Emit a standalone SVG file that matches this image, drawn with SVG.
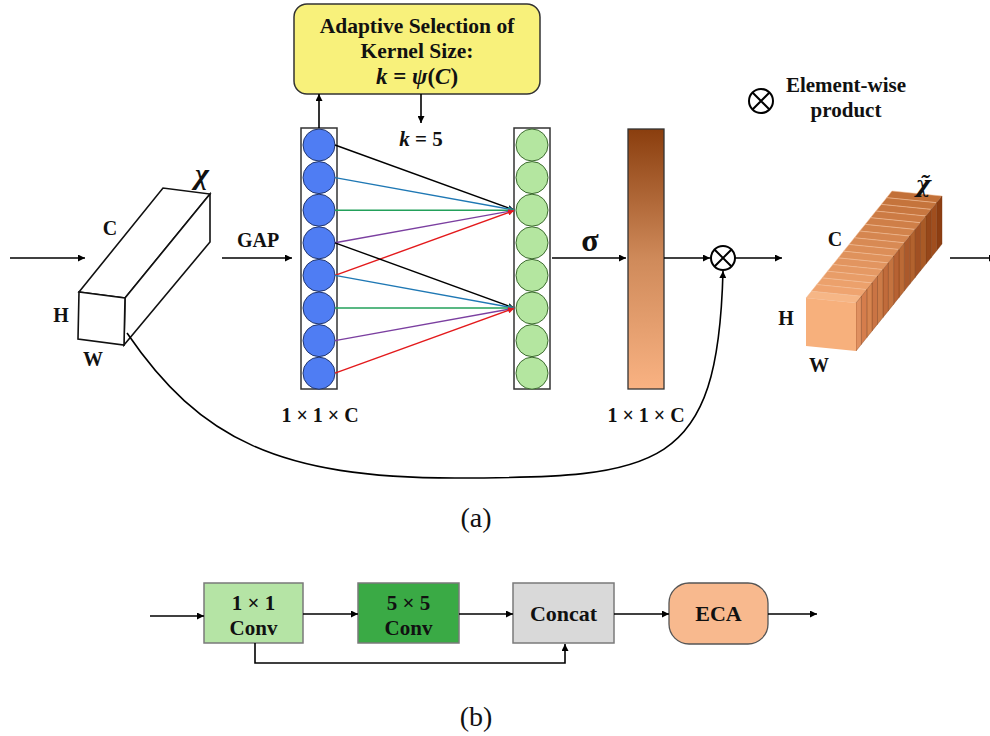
<svg xmlns="http://www.w3.org/2000/svg" xmlns:xlink="http://www.w3.org/1999/xlink" width="990" height="736" viewBox="0 0 990 736">
<style>
.t{font-family:"Liberation Serif","Times New Roman",serif;font-weight:bold;fill:#111}
.r{font-family:"Liberation Serif","Times New Roman",serif;fill:#111}
.ln{stroke:#000;stroke-width:1.6;fill:none}
.edge{stroke:#111;stroke-width:1.6;fill:#fff}
.blue{fill:#4f7df3;stroke:#23376e;stroke-width:1}
.green{fill:#b4e6a0;stroke:#3d6b30;stroke-width:1}
.col{fill:#fff;stroke:#333;stroke-width:1.5}
.box{stroke:#7a7a7a;stroke-width:1.5}
</style>
<defs>
<marker id="ah" viewBox="0 0 10 10" refX="10" refY="5" markerWidth="7" markerHeight="7" markerUnits="userSpaceOnUse" orient="auto"><path d="M0,0 L10,5 L0,10 z" fill="#000"/></marker>
<marker id="ahR" viewBox="0 0 10 10" refX="10" refY="5" markerWidth="6" markerHeight="6" markerUnits="userSpaceOnUse" orient="auto"><path d="M0,0 L10,5 L0,10 z" fill="#e31a1c"/></marker>
<marker id="ahK" viewBox="0 0 10 10" refX="10" refY="5" markerWidth="6" markerHeight="6" markerUnits="userSpaceOnUse" orient="auto"><path d="M0,0 L10,5 L0,10 z" fill="#000"/></marker>
<marker id="ahB" viewBox="0 0 10 10" refX="10" refY="5" markerWidth="6" markerHeight="6" markerUnits="userSpaceOnUse" orient="auto"><path d="M0,0 L10,5 L0,10 z" fill="#1f78b4"/></marker>
<marker id="ahG" viewBox="0 0 10 10" refX="10" refY="5" markerWidth="6" markerHeight="6" markerUnits="userSpaceOnUse" orient="auto"><path d="M0,0 L10,5 L0,10 z" fill="#22a05a"/></marker>
<marker id="ahP" viewBox="0 0 10 10" refX="10" refY="5" markerWidth="6" markerHeight="6" markerUnits="userSpaceOnUse" orient="auto"><path d="M0,0 L10,5 L0,10 z" fill="#7b3fa0"/></marker>
<linearGradient id="bar" x1="0" y1="0" x2="0" y2="1">
<stop offset="0" stop-color="#8a3e0e"/>
<stop offset="0.5" stop-color="#cf8a5a"/>
<stop offset="1" stop-color="#f9b282"/>
</linearGradient>
<polygon id="topS" points="806,298 856,303 861.4,296.3 811.4,291.3"/>
<polygon id="rgtS" points="856,303 856,351 861.4,344.3 861.4,296.3"/>
</defs>

<!-- input tensor X -->
<g id="input-tensor">
<polygon class="edge" points="79,292 163,188 210,194 125,298"/>
<polygon class="edge" points="125,298 210,194 210,242 124,345"/>
<polygon class="edge" points="79,292 125,298 124,345 78,339"/>
<text class="t" x="202" y="184" font-size="30" font-style="italic" text-anchor="middle">χ</text>
<text class="t" x="110" y="235" font-size="20" text-anchor="middle">C</text>
<text class="t" x="61" y="322" font-size="20" text-anchor="middle">H</text>
<text class="t" x="93" y="366" font-size="20" text-anchor="middle">W</text>
</g>

<!-- GAP vector -->
<g id="gap-vector">
<rect class="col" x="301" y="128" width="36" height="261"/>
<circle class="blue" cx="319" cy="145" r="16"/>
<circle class="blue" cx="319" cy="177.6" r="16"/>
<circle class="blue" cx="319" cy="210.2" r="16"/>
<circle class="blue" cx="319" cy="242.8" r="16"/>
<circle class="blue" cx="319" cy="275.4" r="16"/>
<circle class="blue" cx="319" cy="308" r="16"/>
<circle class="blue" cx="319" cy="340.6" r="16"/>
<circle class="blue" cx="319" cy="373.2" r="16"/>
<text class="t" x="320" y="422" font-size="20" text-anchor="middle">1 × 1 × C</text>
</g>

<!-- conv output vector -->
<g id="conv-vector">
<rect class="col" x="514" y="128" width="36" height="261"/>
<circle class="green" cx="532" cy="145" r="16"/>
<circle class="green" cx="532" cy="177.6" r="16"/>
<circle class="green" cx="532" cy="210.2" r="16"/>
<circle class="green" cx="532" cy="242.8" r="16"/>
<circle class="green" cx="532" cy="275.4" r="16"/>
<circle class="green" cx="532" cy="308" r="16"/>
<circle class="green" cx="532" cy="340.6" r="16"/>
<circle class="green" cx="532" cy="373.2" r="16"/>
</g>

<!-- adaptive kernel box -->
<g id="kernel-box">
<rect x="294" y="4" width="246" height="90" rx="13" fill="#f8f17b" stroke="#333" stroke-width="1.5"/>
<text class="t" x="417" y="33" font-size="21.5" text-anchor="middle">Adaptive Selection of</text>
<text class="t" x="417" y="58" font-size="21.5" text-anchor="middle">Kernel Size:</text>
<text class="t" x="417" y="84" font-size="23" text-anchor="middle"><tspan font-style="italic">k</tspan> = <tspan font-style="italic">ψ</tspan>(<tspan font-style="italic">C</tspan>)</text>
</g>
<text class="t" x="421" y="146" font-size="21" text-anchor="middle"><tspan font-style="italic">k</tspan> = 5</text>

<!-- sigmoid weights bar -->
<g id="weights-bar">
<rect x="628" y="129" width="36" height="260" fill="url(#bar)" stroke="#333" stroke-width="1.3"/>
<text class="t" x="646" y="422" font-size="20" text-anchor="middle">1 × 1 × C</text>
</g>

<!-- element-wise product -->
<g id="product">
<circle cx="723" cy="258" r="12" fill="#fff" stroke="#000" stroke-width="2"/>
<path d="M714.5,249.5 L731.5,266.5 M731.5,249.5 L714.5,266.5" stroke="#000" stroke-width="2"/>
</g>

<!-- legend -->
<g id="legend">
<circle cx="761" cy="101" r="12" fill="#fff" stroke="#000" stroke-width="2"/>
<path d="M752.5,92.5 L769.5,109.5 M769.5,92.5 L752.5,109.5" stroke="#000" stroke-width="2"/>
<text class="t" x="846" y="92" font-size="21" text-anchor="middle">Element-wise</text>
<text class="t" x="846" y="117" font-size="21" text-anchor="middle">product</text>
</g>

<!-- output tensor -->
<g id="output-tensor">
<g stroke="#f3bf98" stroke-width="0.5">
<use xlink:href="#topS" transform="translate(80.6,-100.3)" fill="#c27038"/>
<use xlink:href="#topS" transform="translate(75.25,-93.6)" fill="#c5743c"/>
<use xlink:href="#topS" transform="translate(69.9,-86.9)" fill="#c87740"/>
<use xlink:href="#topS" transform="translate(64.5,-80.25)" fill="#cc7b44"/>
<use xlink:href="#topS" transform="translate(59.1,-73.6)" fill="#cf7f48"/>
<use xlink:href="#topS" transform="translate(53.75,-66.9)" fill="#d2834c"/>
<use xlink:href="#topS" transform="translate(48.4,-60.2)" fill="#d58650"/>
<use xlink:href="#topS" transform="translate(43,-53.5)" fill="#d88a54"/>
<use xlink:href="#topS" transform="translate(37.6,-46.8)" fill="#dc8e58"/>
<use xlink:href="#topS" transform="translate(32.25,-40.1)" fill="#df925c"/>
<use xlink:href="#topS" transform="translate(26.9,-33.4)" fill="#e29560"/>
<use xlink:href="#topS" transform="translate(21.5,-26.75)" fill="#e59964"/>
<use xlink:href="#topS" transform="translate(16.1,-20.1)" fill="#e89d68"/>
<use xlink:href="#topS" transform="translate(10.75,-13.4)" fill="#eca16c"/>
<use xlink:href="#topS" transform="translate(5.375,-6.7)" fill="#efa470"/>
<use xlink:href="#topS" fill="#f6b686"/>
</g>
<g stroke="#7e3a12" stroke-width="0.4">
<use xlink:href="#rgtS" transform="translate(80.6,-100.3)" fill="#8c3e12"/>
<use xlink:href="#rgtS" transform="translate(75.25,-93.6)" fill="#a04e1e"/>
<use xlink:href="#rgtS" transform="translate(69.9,-86.9)" fill="#96471a"/>
<use xlink:href="#rgtS" transform="translate(64.5,-80.25)" fill="#a95a26"/>
<use xlink:href="#rgtS" transform="translate(59.1,-73.6)" fill="#a15023"/>
<use xlink:href="#rgtS" transform="translate(53.75,-66.9)" fill="#b2622e"/>
<use xlink:href="#rgtS" transform="translate(48.4,-60.2)" fill="#ab592b"/>
<use xlink:href="#rgtS" transform="translate(43,-53.5)" fill="#bb6a36"/>
<use xlink:href="#rgtS" transform="translate(37.6,-46.8)" fill="#b66233"/>
<use xlink:href="#rgtS" transform="translate(32.25,-40.1)" fill="#c4733f"/>
<use xlink:href="#rgtS" transform="translate(26.9,-33.4)" fill="#c06b3b"/>
<use xlink:href="#rgtS" transform="translate(21.5,-26.75)" fill="#cc7b47"/>
<use xlink:href="#rgtS" transform="translate(16.1,-20.1)" fill="#ca7444"/>
<use xlink:href="#rgtS" transform="translate(10.75,-13.4)" fill="#d6844f"/>
<use xlink:href="#rgtS" transform="translate(5.375,-6.7)" fill="#d57d4c"/>
<use xlink:href="#rgtS" fill="#e09060"/>
</g>
<polygon points="806,298 856,303 856,351 806,346" fill="#f7b07c"/>
<text x="923" y="192" font-family="'DejaVu Serif',serif" font-weight="bold" font-style="italic" font-size="23" fill="#111" text-anchor="middle">χ̃</text>
<text class="t" x="835" y="246" font-size="20" text-anchor="middle">C</text>
<text class="t" x="786" y="325" font-size="20" text-anchor="middle">H</text>
<text class="t" x="819" y="372" font-size="20" text-anchor="middle">W</text>
</g>

<!-- part (a) connectors -->
<g id="connectors-a">
<line class="ln" x1="10" y1="258" x2="85" y2="258" marker-end="url(#ah)"/>
<line class="ln" x1="222" y1="258" x2="292" y2="258" marker-end="url(#ah)"/>
<text class="t" x="258" y="247" font-size="20" text-anchor="middle">GAP</text>
<line class="ln" x1="319" y1="128" x2="319" y2="94" marker-end="url(#ah)" stroke-width="1.4"/>
<line class="ln" x1="421" y1="94" x2="421" y2="123" marker-end="url(#ah)" stroke-width="1.4"/>
<g stroke-width="1.4" fill="none">
<line x1="335" y1="145" x2="514" y2="210" stroke="#000" marker-end="url(#ahK)"/>
<line x1="335" y1="177.6" x2="514" y2="210" stroke="#1f78b4" marker-end="url(#ahB)"/>
<line x1="335" y1="210.2" x2="514" y2="210.2" stroke="#22a05a" marker-end="url(#ahG)"/>
<line x1="335" y1="242.8" x2="514" y2="210.4" stroke="#7b3fa0" marker-end="url(#ahP)"/>
<line x1="335" y1="275.4" x2="514" y2="210.6" stroke="#e31a1c" marker-end="url(#ahR)"/>
<line x1="335" y1="242.8" x2="514" y2="308" stroke="#000" marker-end="url(#ahK)"/>
<line x1="335" y1="275.4" x2="514" y2="308" stroke="#1f78b4" marker-end="url(#ahB)"/>
<line x1="335" y1="308" x2="514" y2="308" stroke="#22a05a" marker-end="url(#ahG)"/>
<line x1="335" y1="340.6" x2="514" y2="308.2" stroke="#7b3fa0" marker-end="url(#ahP)"/>
<line x1="335" y1="373.2" x2="514" y2="308.4" stroke="#e31a1c" marker-end="url(#ahR)"/>
</g>
<line class="ln" x1="552" y1="258" x2="626" y2="258" marker-end="url(#ah)"/>
<text class="t" x="590" y="251" font-size="32" text-anchor="middle">σ</text>
<line class="ln" x1="664" y1="258" x2="710" y2="258" marker-end="url(#ah)"/>
<line class="ln" x1="735" y1="258" x2="782" y2="258" marker-end="url(#ah)"/>
<line class="ln" x1="950" y1="258" x2="996" y2="258" marker-end="url(#ah)"/>
<path class="ln" d="M127,333 C200,440 280,478 455,478 C660,478 718,470 723,271" marker-end="url(#ah)"/>
</g>

<text class="r" x="476" y="527" font-size="28" text-anchor="middle">(a)</text>

<!-- part (b) -->
<g id="conv1x1">
<rect class="box" x="204" y="583" width="99" height="60" fill="#b5e4a5"/>
<text class="t" x="253.5" y="610" font-size="21" text-anchor="middle">1 × 1</text>
<text class="t" x="253.5" y="635" font-size="21" text-anchor="middle">Conv</text>
</g>
<g id="conv5x5">
<rect class="box" x="358" y="583" width="101" height="60" fill="#3aaa45"/>
<text class="t" x="408.5" y="610" font-size="21" text-anchor="middle">5 × 5</text>
<text class="t" x="408.5" y="635" font-size="21" text-anchor="middle">Conv</text>
</g>
<g id="concat">
<rect class="box" x="513" y="583" width="101" height="60" fill="#d9d9d9"/>
<text class="t" x="563.5" y="621" font-size="22" text-anchor="middle">Concat</text>
</g>
<g id="eca">
<rect x="669" y="583" width="99" height="61" rx="20" fill="#f8b98e" stroke="#555" stroke-width="1.3"/>
<text class="t" x="718.5" y="621" font-size="22" text-anchor="middle">ECA</text>
</g>
<g id="connectors-b">
<line class="ln" x1="150" y1="616" x2="204" y2="616" marker-end="url(#ah)"/>
<line class="ln" x1="303" y1="614" x2="358" y2="614" marker-end="url(#ah)"/>
<line class="ln" x1="459" y1="614" x2="513" y2="614" marker-end="url(#ah)"/>
<line class="ln" x1="614" y1="614" x2="669" y2="614" marker-end="url(#ah)"/>
<line class="ln" x1="768" y1="614" x2="817" y2="614" marker-end="url(#ah)"/>
<path class="ln" d="M255,643 L255,663 L565,663 L565,644" marker-end="url(#ah)"/>
</g>

<text class="r" x="476" y="726" font-size="28" text-anchor="middle">(b)</text>
</svg>
